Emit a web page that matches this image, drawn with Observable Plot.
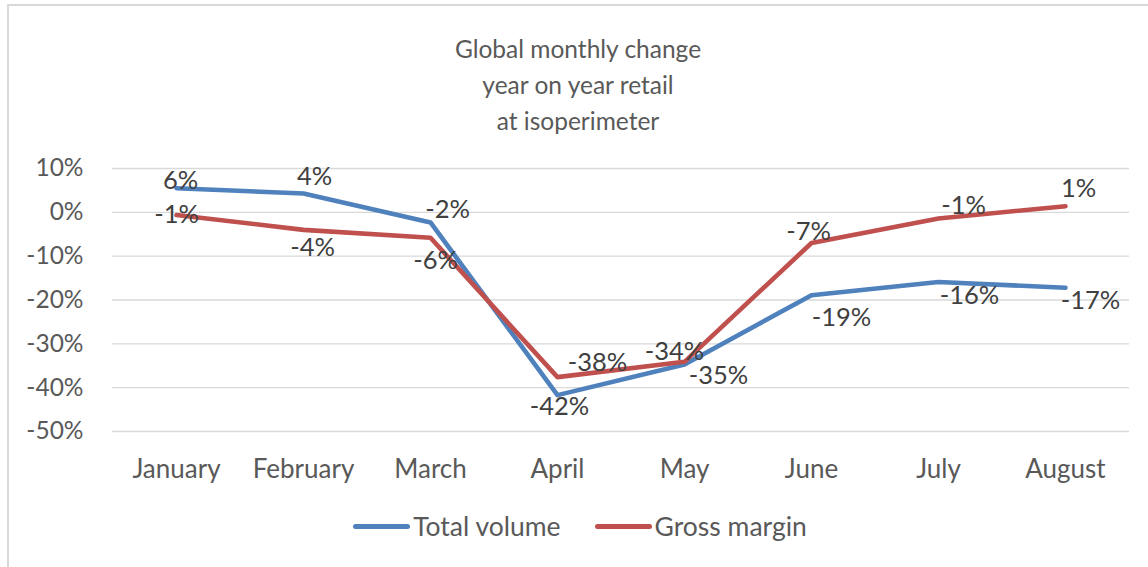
<!DOCTYPE html>
<html>
<head>
<meta charset="utf-8">
<script src="https://cdn.jsdelivr.net/npm/d3@7"></script>
<script src="https://cdn.jsdelivr.net/npm/@observablehq/plot@0.6"></script>
<style>
  html, body { margin: 0; padding: 0; background: #fff; }
  #wrap { position: relative; width: 1148px; height: 567px; overflow: hidden; font-family: Lato, "Open Sans", sans-serif; }
  #frame { position: absolute; left: 7px; top: 4px; width: 1160px; height: 600px; border-top: 2px solid #d9d9d9; border-left: 2px solid #d9d9d9; box-sizing: border-box; }
  #title { position: absolute; left: 0; width: 1156px; top: 31px; text-align: center; color: #595959; font-size: 24.5px; line-height: 36px; }
  #chart { position: absolute; left: 0; top: 140px; }
  #legend { position: absolute; left: 0; width: 1160px; top: 510px; display: flex; justify-content: center; align-items: center; color: #595959; font-size: 26.5px; }
  .sw { display: inline-block; width: 57px; height: 5px; border-radius: 3px; margin-right: 3px; }
  .item { display: flex; align-items: center; margin: 0 17px; }
</style>
</head>
<body>
<div id="wrap">
  <div id="frame"></div>
  <div id="title"></div>
  <div id="chart"></div>
  <div id="legend"></div>
</div>
<script>
const titleLines = ["Global monthly change", "year on year retail", "at isoperimeter"];
const months = ["January", "February", "March", "April", "May", "June", "July", "August"];
const seriesNames = ["Total volume", "Gross margin"];
const totalVolume = [5.5, 4.3, -2.3, -41.7, -34.7, -18.9, -15.9, -17.2];
const grossMargin = [-0.6, -4.0, -5.8, -37.6, -34.1, -7.0, -1.4, 1.4];
const yTicks = [10, 0, -10, -20, -30, -40, -50];

// styling / label placement (not data)
const colors = {"Total volume": "#4f81bd", "Gross margin": "#c0504d"};
const labelOffsets = {
  "Total volume": [[4, -7], [11, -17], [17, -13], [2, 12], [34, 11], [30, 23], [31, 14], [25, 13]],
  "Gross margin": [[0, 0], [9, 18], [5, 23], [40, -14], [-10, -10], [-3, -11], [25, -13], [13, -17]]
};

const data = [];
seriesNames.forEach((s, si) => {
  const vals = si === 0 ? totalVolume : grossMargin;
  months.forEach((m, i) => data.push({series: s, month: m, value: vals[i], dx: labelOffsets[s][i][0], dy: labelOffsets[s][i][1]}));
});

document.getElementById("title").innerHTML = titleLines.join("<br>");
document.getElementById("legend").innerHTML = seriesNames.map(s =>
  `<span class="item"><span class="sw" style="background:${colors[s]}"></span>${s}</span>`).join("");

const fmt = d => Math.round(d) + "%";

const labelMarks = data.map(d => Plot.text([d], {
  x: "month", y: "value", text: dd => fmt(dd.value), dx: d.dx, dy: d.dy,
  fill: "#404040", fontSize: 25.5, fontFamily: "Lato"
}));

const plot = Plot.plot({
  width: 1148,
  height: 360,
  marginLeft: 112,
  marginRight: 19,
  marginTop: 28,
  marginBottom: 69,
  style: {fontFamily: "Lato", background: "transparent"},
  x: {type: "point", domain: months, padding: 0.5},
  y: {domain: [-50, 10]},
  marks: [
    Plot.ruleY(yTicks, {stroke: "#d9d9d9", strokeWidth: 1.4}),
    Plot.axisY({ticks: yTicks, tickFormat: fmt, tickSize: 0, tickPadding: 29, fontSize: 24.5, color: "#595959", label: null}),
    Plot.axisX({tickSize: 0, tickPadding: 28, fontSize: 26, color: "#595959", label: null}),
    Plot.line(data, {x: "month", y: "value", z: "series", stroke: d => colors[d.series], strokeWidth: 4.6, strokeLinecap: "round", strokeLinejoin: "round"}),
    ...labelMarks
  ]
});
document.getElementById("chart").appendChild(plot);
</script>
</body>
</html>
